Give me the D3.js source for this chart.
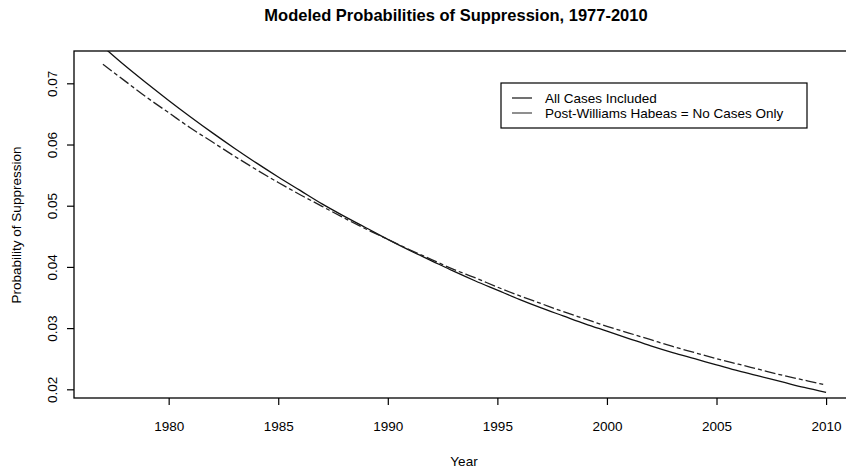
<!DOCTYPE html>
<html><head><meta charset="utf-8">
<script src="https://cdn.jsdelivr.net/npm/d3@7"></script>
<style>body{margin:0;background:#fff}svg{display:block}text{font-family:"Liberation Sans",Arial,sans-serif;fill:#000}</style>
</head><body><svg id="c" width="846" height="470"></svg>
<script>
const years = d3.range(1977, 2011);
const allCases = [0.0760,0.0729,0.0700,0.0672,0.0645,0.0619,0.0594,0.0570,0.0547,0.0525,0.0503,0.0483,0.0464,0.0445,0.0427,0.0410,0.0393,0.0377,0.0362,0.0347,0.0333,0.0320,0.0307,0.0295,0.0283,0.0271,0.0260,0.0250,0.0240,0.0230,0.0221,0.0212,0.0203,0.0195];
const postWilliams = [0.0731,0.0704,0.0677,0.0652,0.0627,0.0604,0.0581,0.0559,0.0538,0.0518,0.0499,0.0480,0.0462,0.0445,0.0428,0.0412,0.0396,0.0382,0.0367,0.0353,0.0340,0.0327,0.0315,0.0303,0.0292,0.0281,0.0270,0.0260,0.0250,0.0241,0.0232,0.0223,0.0215,0.0207];
const xTicks = [1980,1985,1990,1995,2000,2005,2010];
const yTicks = [0.02,0.03,0.04,0.05,0.06,0.07];
const seriesNames = ["All Cases Included","Post-Williams Habeas = No Cases Only"];

const svg = d3.select("#c");
const L = 74, T = 51, B = 398, R = 855;
const x = d3.scaleLinear().domain([1975.68, 2011.32]).range([L, R]);
const y = d3.scaleLinear().domain([0.01858, 0.07528]).range([B, T]);

svg.append("defs").append("clipPath").attr("id","pc").append("rect")
  .attr("x",L).attr("y",T).attr("width",R-L).attr("height",B-T);

// box
svg.append("rect").attr("x",L).attr("y",T).attr("width",R-L).attr("height",B-T)
  .attr("fill","none").attr("stroke","#000").attr("stroke-width",1.3);

// axes
const xa = svg.append("g").attr("transform",`translate(0,${B})`)
  .call(d3.axisBottom(x).tickValues(xTicks).tickFormat(d3.format("d")).tickSize(7).tickSizeOuter(0).tickPadding(16));
xa.select(".domain").remove();
xa.selectAll("text").attr("font-size",13.5).style("font-family",'"Liberation Sans",Arial,sans-serif');
xa.selectAll("line").attr("stroke-width",1.2);

const ya = svg.append("g").attr("transform",`translate(${L},0)`)
  .call(d3.axisLeft(y).tickValues(yTicks).tickFormat(d3.format(".2f")).tickSize(7).tickSizeOuter(0));
ya.select(".domain").remove();
ya.selectAll("line").attr("stroke-width",1.2);
ya.selectAll("text").attr("font-size",13.5).style("font-family",'"Liberation Sans",Arial,sans-serif')
  .attr("x",null).attr("dy",null)
  .attr("text-anchor","middle")
  .attr("transform","translate(-22,0) rotate(-90)")
  .attr("dy","0.35em");

// lines
const line = d3.line().x((d,i)=>x(years[i])).y(d=>y(d)).curve(d3.curveMonotoneX);
const g = svg.append("g").attr("clip-path","url(#pc)");
g.append("path").attr("d",line(allCases)).attr("fill","none").attr("stroke","#111").attr("stroke-width",1.3);
g.append("path").attr("d",line(postWilliams)).attr("fill","none").attr("stroke","#222").attr("stroke-width",1.3).attr("stroke-dasharray","11,3,4,3");

// titles
svg.append("text").attr("x",456).attr("y",21).attr("text-anchor","middle")
  .attr("font-size",16.5).attr("font-weight","bold").text("Modeled Probabilities of Suppression, 1977-2010");
svg.append("text").attr("x",464).attr("y",466).attr("text-anchor","middle").attr("font-size",13.5).text("Year");
svg.append("text").attr("transform","translate(21,225) rotate(-90)").attr("text-anchor","middle")
  .attr("font-size",13.5).text("Probability of Suppression");

// legend
const lg = svg.append("g");
lg.append("rect").attr("x",501).attr("y",83).attr("width",306).attr("height",45)
  .attr("fill","#fff").attr("stroke","#000").attr("stroke-width",1.2);
seriesNames.forEach((n,i)=>{
  const yy = 98 + i*15;
  lg.append("line").attr("x1",512).attr("x2",532).attr("y1",yy).attr("y2",yy)
    .attr("stroke", i===0 ? "#111" : "#444").attr("stroke-width",1.2);
  lg.append("text").attr("x",545).attr("y",yy).attr("dy","0.35em").attr("font-size",13.5).text(n);
});
</script></body></html>
